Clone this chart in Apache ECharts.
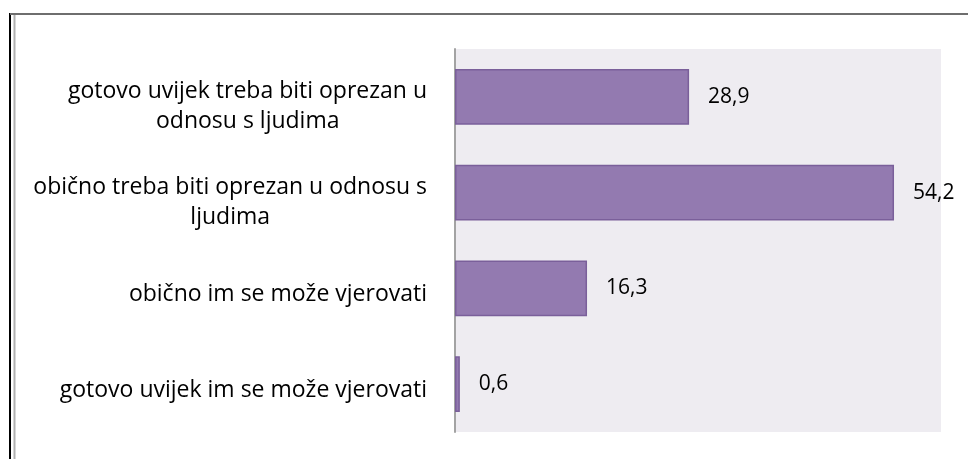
<!DOCTYPE html>
<html>
<head>
<meta charset="utf-8">
<script src="https://cdn.jsdelivr.net/npm/echarts@6/dist/echarts.min.js"></script>
<style>
html,body{margin:0;padding:0;background:#fff;}
#c{width:968px;height:459px;}
</style>
</head>
<body>
<div id="c"></div>
<script>
const categories = [
  "gotovo uvijek treba biti oprezan u\nodnosu s ljudima",
  "obično treba biti oprezan u odnosu s\nljudima",
  "obično im se može vjerovati",
  "gotovo uvijek im se može vjerovati"
];
const values = [28.9, 54.2, 16.3, 0.6];

const FONT = 'Open Sans';
const FS = 23;
const VFS = 21;

// per-line rich styles: centre each line inside its label block (left padding) and nudge down
const ctx = document.createElement('canvas').getContext('2d');
ctx.font = FS + 'px ' + FONT;
const rich = {};
categories.forEach(function (cat, i) {
  const lines = cat.split('\n');
  const widths = lines.map(function (s) { return ctx.measureText(s).width; });
  const maxW = Math.max.apply(null, widths);
  const shift = lines.length > 1 ? 10 : 6;
  lines.forEach(function (s, j) {
    rich['l' + i + '_' + j] = {
      align: 'left', fontFamily: FONT, fontSize: FS, color: '#000', lineHeight: 30,
      padding: [shift * 2, 0, 0, Math.round((maxW - widths[j]) / 2)]
    };
  });
});

const chart = echarts.init(document.getElementById('c'), null, {renderer: 'canvas'});
chart.setOption({
  animation: false,
  backgroundColor: '#ffffff',
  graphic: [
    {type: 'line', shape: {x1: 10, y1: 13, x2: 10, y2: 459}, style: {stroke: '#000', lineWidth: 2}},
    {type: 'line', shape: {x1: 14.5, y1: 14, x2: 14.5, y2: 459}, style: {stroke: '#b0b0b0', lineWidth: 2}},
    {type: 'line', shape: {x1: 10, y1: 14, x2: 968, y2: 14}, style: {stroke: '#6e6e6e', lineWidth: 2}}
  ],
  grid: {left: 455, right: 27, top: 49, bottom: 27, show: true, backgroundColor: '#EEECF1', borderWidth: 0, containLabel: false},
  xAxis: {type: 'value', min: 0, max: 60, show: false},
  yAxis: {
    type: 'category', data: categories, inverse: true,
    axisLine: {show: true, lineStyle: {color: '#A3A3A3', width: 2}},
    axisTick: {show: false},
    axisLabel: {
      margin: 28,
      align: 'right',
      lineHeight: 30,
      formatter: function (v) {
        const i = categories.indexOf(v);
        return v.split('\n').map(function (s, j) { return '{l' + i + '_' + j + '|' + s + '}'; }).join('\n');
      },
      rich: rich
    }
  },
  series: [{
    type: 'bar',
    data: values,
    barCategoryGap: '42%',
    itemStyle: {color: '#937AB0', borderColor: '#7A5F9A', borderWidth: 1.5},
    label: {
      show: true, position: 'right', distance: 19,
      fontFamily: FONT, fontSize: VFS, color: '#000',
      formatter: function (p) { return String(p.value).replace('.', ','); }
    }
  }]
});
</script>
</body>
</html>
